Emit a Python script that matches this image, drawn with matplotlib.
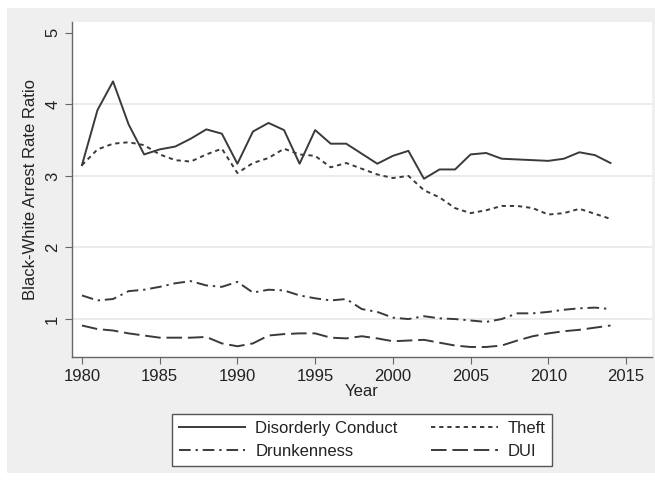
import matplotlib
matplotlib.use('agg')
import matplotlib.pyplot as plt
from matplotlib.patches import Rectangle

# data
years = list(range(1980, 2015))
disorderly = [3.15, 3.92, 4.32, 3.72, 3.30, 3.37, 3.41, 3.52, 3.65, 3.59,
              3.17, 3.62, 3.74, 3.64, 3.17, 3.64, 3.45, 3.45, 3.31, 3.17,
              3.28, 3.35, 2.96, 3.09, 3.09, 3.30, 3.32, 3.24, 3.23, 3.22,
              3.21, 3.24, 3.33, 3.29, 3.18]
theft = [3.15, 3.37, 3.45, 3.47, 3.43, 3.30, 3.22, 3.20, 3.30, 3.38,
         3.04, 3.18, 3.25, 3.38, 3.30, 3.28, 3.12, 3.18, 3.10, 3.02,
         2.97, 3.00, 2.80, 2.70, 2.55, 2.48, 2.52, 2.58, 2.58, 2.55,
         2.46, 2.48, 2.54, 2.47, 2.40]
drunk = [1.33, 1.26, 1.28, 1.39, 1.41, 1.45, 1.50, 1.53, 1.47, 1.45,
         1.52, 1.37, 1.41, 1.40, 1.33, 1.29, 1.26, 1.28, 1.14, 1.10,
         1.02, 1.00, 1.04, 1.01, 1.00, 0.98, 0.96, 1.00, 1.08, 1.08,
         1.10, 1.13, 1.15, 1.16, 1.14]
dui = [0.91, 0.86, 0.84, 0.80, 0.77, 0.74, 0.74, 0.74, 0.75, 0.66,
       0.62, 0.66, 0.77, 0.79, 0.80, 0.80, 0.74, 0.73, 0.76, 0.73,
       0.69, 0.70, 0.71, 0.67, 0.63, 0.61, 0.61, 0.63, 0.70, 0.76,
       0.80, 0.83, 0.85, 0.88, 0.91]

xticks = [1980, 1985, 1990, 1995, 2000, 2005, 2010, 2015]
yticks = [1, 2, 3, 4, 5]

plt.rcParams['font.family'] = ['Liberation Sans', 'DejaVu Sans']

W, H = 655, 483
fs = 12
fig = plt.figure(figsize=(W/100, H/100), dpi=100, facecolor='white')
# gray stata background, behind the axes
fig.patches.append(Rectangle((7/W, (H-473)/H), (655-7)/W, (473-8)/H,
                             transform=fig.transFigure, facecolor='#efefef',
                             edgecolor='none', zorder=-10))

ax = fig.add_axes([72/W, (H-357)/H, (652-72)/W, (357-22)/H])
ax.set_facecolor('white')

col = '#3a3a3a'
lw = 1.4
ax.plot(years, disorderly, color=col, lw=lw, ls='-', label='Disorderly Conduct')
ax.plot(years, theft, color=col, lw=lw, ls=(0, (2.2, 2.0)), label='Theft')
ax.plot(years, drunk, color=col, lw=lw, ls=(0, (6, 2.5, 1.2, 2.5)), label='Drunkenness')
ax.plot(years, dui, color=col, lw=lw, ls=(0, (8, 3)), label='DUI')

ax.set_xlim(1979.36, 2016.67)
ax.set_ylim(0.47, 5.15)
ax.set_xticks(xticks)
ax.set_yticks(yticks)
for v in [1, 2, 3, 4]:
    ax.axhline(v, color='#e8e8e8', lw=1.2, zorder=0)

for s in ['top', 'right']:
    ax.spines[s].set_visible(False)
for s in ['left', 'bottom']:
    ax.spines[s].set_color('#666666')
    ax.spines[s].set_linewidth(1.0)
ax.tick_params(direction='out', length=5, color='#666666', labelsize=fs,
               labelcolor='#222222')
for lab in ax.get_yticklabels():
    lab.set_rotation(90)
    lab.set_va('center')

ax.set_xlabel('Year', fontsize=fs, color='#222222', labelpad=0)
ax.set_ylabel('Black-White Arrest Rate Ratio', fontsize=fs, color='#222222', labelpad=5)

# legend in two columns: Disorderly/Theft, Drunkenness/DUI
h, l = ax.get_legend_handles_labels()
order = [0, 2, 1, 3]
leg = fig.legend([h[i] for i in order], [l[i] for i in order], ncol=2,
                 loc='center', bbox_to_anchor=(362/W, (H-440)/H),
                 frameon=True, fancybox=False, fontsize=fs, framealpha=1,
                 handlelength=4.0, columnspacing=2.0, handletextpad=0.6,
                 borderpad=0.4, labelspacing=0.5)
leg.get_frame().set_edgecolor('#555555')
leg.get_frame().set_facecolor('white')
leg.get_frame().set_linewidth(1.0)
for t in leg.get_texts():
    t.set_color('#222222')

fig.savefig('out.png', dpi=100)
